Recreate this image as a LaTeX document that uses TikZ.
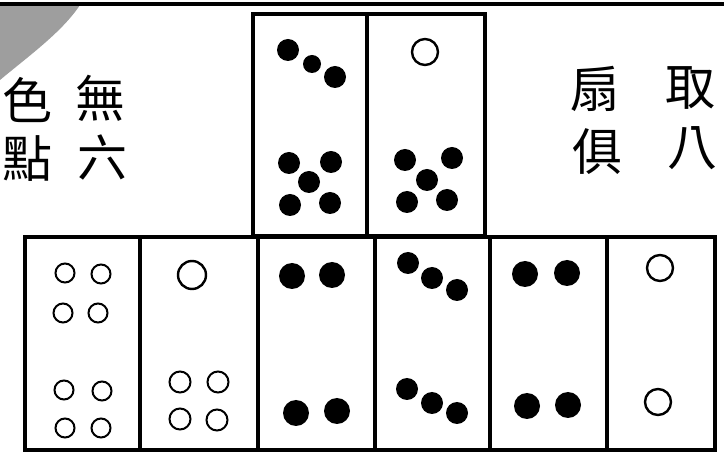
\documentclass[tikz,border=0pt]{standalone}
\usepackage{fontspec}
\newfontfamily\cjkfont{Noto Sans CJK TC}

\begin{document}
\begin{tikzpicture}[x=1pt,y=-1pt]
\tikzset{
  tileframe/.style={line width=3.6pt,line cap=rect},
  blackpip/.style={circle,fill=black,inner sep=0pt,minimum size=22pt},
  whitepip/.style={circle,draw,line width=2.4pt,inner sep=0pt,minimum size=26pt},
  smallpip/.style={circle,draw,line width=2pt,inner sep=0pt,minimum size=19pt},
  glyph/.style={font=\cjkfont\fontsize{50}{50}\selectfont,inner sep=0pt}
}
\useasboundingbox (0,0) rectangle (724,454);
\clip (0,0) rectangle (724,454);
% scan shadow and page rule
\fill[black!38] (0,5) -- (80,5) .. controls (62,32) and (30,55) .. (0,80) -- cycle;
\draw[line width=3.6pt] (0,4) -- (724,4);
% side text
\node[glyph] (c_wu) at (100,98) {無};
\node[glyph] (c_liu) at (102,157) {六};
\node[glyph] (c_se) at (27,100) {色};
\node[glyph] (c_dian) at (27,159) {點};
\node[glyph] (c_qu) at (690,88) {取};
\node[glyph] (c_ba) at (692,148) {八};
\node[glyph] (c_shan) at (595,89) {扇};
\node[glyph] (c_ju) at (597,152) {俱};
% upper tiles
\draw[tileframe] (253,14) rectangle (485,236);
\draw[tileframe] (367,14) -- (367,236);
\node[blackpip] (a1) at (288,50) {};
\node[blackpip,minimum size=18pt] (a2) at (312,64) {};
\node[blackpip] (a3) at (335,77) {};
\node[blackpip] (a4) at (289,163) {};
\node[blackpip] (a5) at (331,162) {};
\node[blackpip] (a6) at (309,182) {};
\node[blackpip] (a7) at (290,205) {};
\node[blackpip] (a8) at (330,203) {};
\node[whitepip] (b1) at (425,52) {};
\node[blackpip] (b2) at (405,160) {};
\node[blackpip] (b3) at (452,158) {};
\node[blackpip] (b4) at (427,180) {};
\node[blackpip] (b5) at (407,202) {};
\node[blackpip] (b6) at (447,200) {};
% lower row
\draw[tileframe] (25,237) rectangle (715,450);
\draw[tileframe] (140,237) -- (140,450);
\draw[tileframe] (258,237) -- (258,450);
\draw[tileframe] (375,237) -- (375,450);
\draw[tileframe] (490,237) -- (490,450);
\draw[tileframe] (607,237) -- (607,450);
\node[smallpip] (p1) at (65,273) {};
\node[smallpip] (p2) at (101,274) {};
\node[smallpip] (p3) at (63,313) {};
\node[smallpip] (p4) at (98,313) {};
\node[smallpip] (p5) at (64,390) {};
\node[smallpip] (p6) at (102,391) {};
\node[smallpip] (p7) at (65,428) {};
\node[smallpip] (p8) at (101,428) {};
\node[whitepip,minimum size=28pt] (q1) at (192,275) {};
\node[smallpip,minimum size=21pt] (q2) at (180,382) {};
\node[smallpip,minimum size=21pt] (q3) at (218,382) {};
\node[smallpip,minimum size=21pt] (q4) at (180,419) {};
\node[smallpip,minimum size=21pt] (q5) at (217,420) {};
\node[blackpip,minimum size=26pt] (r1) at (292,276) {};
\node[blackpip,minimum size=26pt] (r2) at (332,275) {};
\node[blackpip,minimum size=26pt] (r3) at (296,413) {};
\node[blackpip,minimum size=26pt] (r4) at (337,411) {};
\node[blackpip] (s1) at (408,263) {};
\node[blackpip] (s2) at (432,278) {};
\node[blackpip] (s3) at (457,290) {};
\node[blackpip] (s4) at (407,389) {};
\node[blackpip] (s5) at (432,403) {};
\node[blackpip] (s6) at (457,413) {};
\node[blackpip,minimum size=26pt] (t1) at (525,274) {};
\node[blackpip,minimum size=26pt] (t2) at (567,273) {};
\node[blackpip,minimum size=26pt] (t3) at (527,406) {};
\node[blackpip,minimum size=26pt] (t4) at (568,405) {};
\node[whitepip] (u1) at (660,268) {};
\node[whitepip] (u2) at (658,402) {};
\end{tikzpicture}
\end{document}
